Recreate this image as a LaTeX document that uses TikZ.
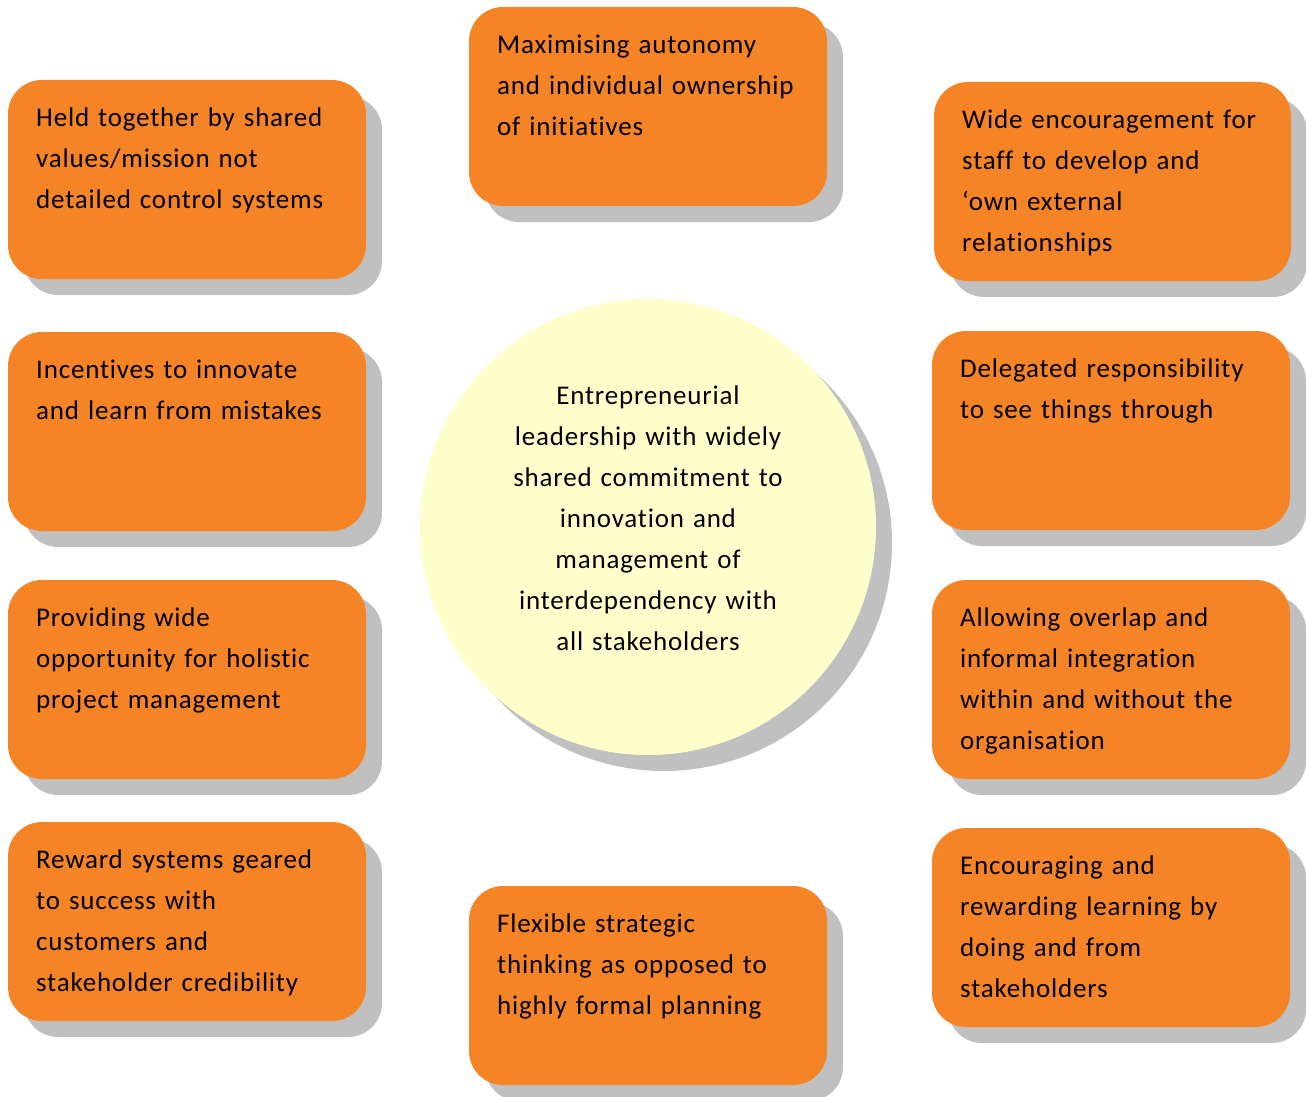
\documentclass[tikz,border=0pt]{standalone}
\usepackage{fontspec}
\setmainfont{Carlito}[LetterSpace=3,Ligatures={NoCommon,NoContextual},RawFeature={-liga;-clig;-dlig}]
\definecolor{boxorange}{HTML}{F58426}
\definecolor{shadowgray}{HTML}{C0C0C0}
\definecolor{circyellow}{HTML}{FFFFCC}
\tikzset{
  boxshape/.style={fill=boxorange, draw=none, rounded corners=34pt},
  boxshadow/.style={fill=shadowgray, draw=none, rounded corners=34pt},
  boxtext/.style={anchor=north west, inner sep=0pt, align=left, text width=340pt,
    font=\fontsize{27}{41}\selectfont},
  circtext/.style={anchor=north, inner sep=0pt, align=center, text width=340pt,
    font=\fontsize{27}{41}\selectfont},
}
\newcommand{\firstline}{\rule{0pt}{20pt}}
\begin{document}
\begin{tikzpicture}[x=1pt,y=-1pt]
\useasboundingbox (0,0) rectangle (1306,1097);
% shadows
\foreach \x/\y/\w in {8/80/358, 8/332/358, 8/580/358, 8/822/358, 469/7/358, 469/886/358, 934/82/357, 932/331/358, 932/580/358, 932/828/358}{
  \fill[boxshadow] (\x+16,\y+16) rectangle ++(\w,199);
}
\fill[shadowgray] (664,543) circle (228);
% boxes
\path[boxshape] (8,80) rectangle ++(358,199);
\path[boxshape] (8,332) rectangle ++(358,199);
\path[boxshape] (8,580) rectangle ++(358,199);
\path[boxshape] (8,822) rectangle ++(358,199);
\path[boxshape] (469,7) rectangle ++(358,199);
\path[boxshape] (469,886) rectangle ++(358,199);
\path[boxshape] (934,82) rectangle ++(357,199);
\path[boxshape] (932,331) rectangle ++(358,199);
\path[boxshape] (932,580) rectangle ++(358,199);
\path[boxshape] (932,828) rectangle ++(358,199);
\fill[circyellow] (648,527) circle (228);
% texts
\node[boxtext] (tl1) at (36,106) {\firstline Held together by shared\\values/mission not\\detailed control systems};
\node[boxtext] (tl2) at (36,358) {\firstline Incentives to innovate\\and learn from mistakes};
\node[boxtext] (tl3) at (36,606) {\firstline Providing wide\\opportunity for holistic\\project management};
\node[boxtext] (tl4) at (36,848) {\firstline Reward systems geared\\to success with\\customers and\\stakeholder credibility};
\node[boxtext] (tt1) at (497,33) {\firstline Maximising autonomy\\and individual ownership\\of initiatives};
\node[boxtext] (tb1) at (497,912) {\firstline Flexible strategic\\thinking as opposed to\\highly formal planning};
\node[boxtext] (tr1) at (962,108) {\firstline Wide encouragement for\\staff to develop and\\‘own external\\relationships};
\node[boxtext] (tr2) at (960,357) {\firstline Delegated responsibility\\to see things through};
\node[boxtext] (tr3) at (960,606) {\firstline Allowing overlap and\\informal integration\\within and without the\\organisation};
\node[boxtext] (tr4) at (960,854) {\firstline Encouraging and\\rewarding learning by\\doing and from\\stakeholders};
\node[circtext] (center) at (648,384) {\firstline Entrepreneurial\\leadership with widely\\shared commitment to\\innovation and\\management of\\interdependency with\\all stakeholders};
\end{tikzpicture}
\end{document}
